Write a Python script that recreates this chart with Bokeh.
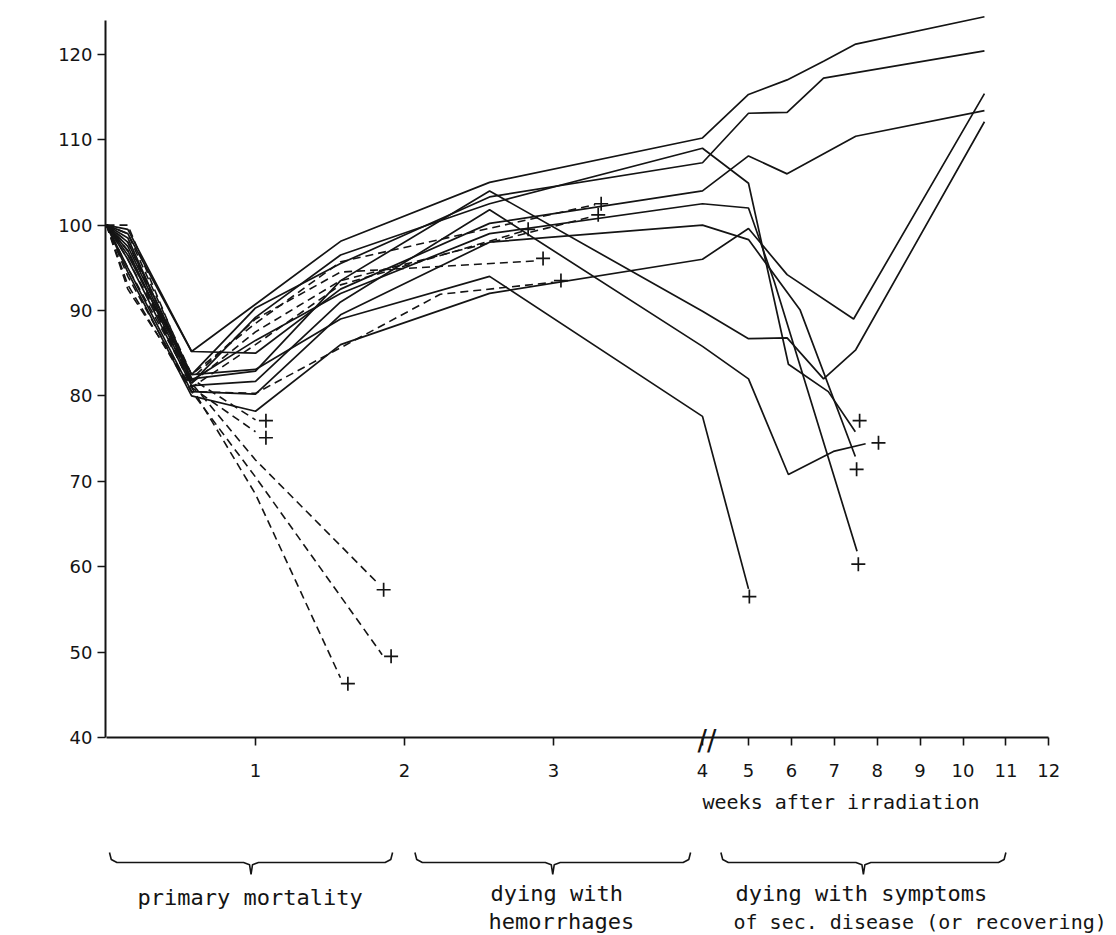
import math
from bokeh.plotting import figure
from bokeh.models import Range1d, FixedTicker, Label
from bokeh.embed import file_html
from bokeh.resources import INLINE

# ---------------- data: weeks after irradiation / % pre-irradiation weight ----------------
# solid lines (animals living past the hemorrhagic phase)
a_w = [0, 0.143, 0.571, 1.571, 2.571, 4.0, 5.0, 5.9, 6.75, 7.5, 10.5]
a_y = [100, 99.0, 85.2, 98.1, 105.0, 110.2, 115.3, 117.0, 119.2, 121.2, 124.4]
c_w = [0, 0.143, 0.571, 1.0, 1.571, 2.571, 4.0, 5.0, 5.9, 6.75, 10.5]
c_y = [100, 98.0, 82.5, 90.3, 95.5, 103.3, 107.3, 113.1, 113.2, 117.2, 120.4]
d_w = [0, 0.143, 0.571, 1.0, 1.571, 2.571, 4.0, 5.0, 5.9, 7.5, 10.5]
d_y = [100, 99.5, 85.2, 85.0, 92.5, 100.2, 104.0, 108.1, 106.0, 110.4, 113.4]
b_w = [0, 0.143, 0.571, 1.0, 1.571, 2.571, 4.0, 5.0, 5.93, 6.86, 7.49]
b_y = [100, 97.0, 81.5, 89.2, 96.5, 102.5, 109.0, 104.9, 83.7, 80.5, 75.8]
k_w = [0, 0.143, 0.571, 1.0, 1.571, 2.571, 4.0, 5.0, 5.6, 7.53]
k_y = [100, 98.5, 81.8, 86.5, 92.0, 99.0, 102.5, 102.0, 93.4, 61.8]
e_w = [0, 0.143, 0.571, 1.0, 1.571, 2.571, 4.0, 5.0, 6.2, 7.49]
e_y = [100, 95.0, 80.5, 80.2, 89.5, 98.0, 100.0, 98.3, 90.1, 72.9]
f_w = [0, 0.143, 0.571, 1.0, 1.571, 2.571, 4.0, 5.0, 5.9, 7.45, 10.5]
f_y = [100, 94.5, 80.0, 78.2, 86.0, 92.0, 96.0, 99.6, 94.2, 89.0, 115.4]
g_w = [0, 0.143, 0.571, 1.0, 1.571, 2.571, 4.0, 5.0, 5.9, 6.75, 7.5, 10.5]
g_y = [100, 97.5, 82.0, 82.9, 93.5, 104.0, 89.9, 86.7, 86.8, 82.0, 85.4, 112.1]
h_w = [0, 0.143, 0.571, 1.0, 1.571, 2.571, 4.0, 5.0, 5.93, 6.98, 7.73]
h_y = [100, 96.0, 81.2, 81.7, 91.0, 101.8, 85.8, 82.0, 70.8, 73.5, 74.4]
i_w = [0, 0.143, 0.571, 1.0, 1.571, 2.571, 4.0, 5.0]
i_y = [100, 96.5, 82.5, 83.1, 89.0, 94.0, 77.6, 57.4]

# dashed lines: primary mortality
p1_w = [0, 0.143, 0.571, 1.0]
p1_y = [100, 100.0, 82.0, 77.2]
p2_w = [0, 0.143, 0.571, 1.0]
p2_y = [100, 97.0, 81.0, 75.8]
p3_w = [0, 0.143, 0.571, 1.0, 1.83]
p3_y = [100, 95.0, 81.5, 72.5, 57.9]
p4_w = [0, 0.143, 0.571, 1.0, 1.85]
p4_y = [100, 93.0, 80.5, 70.5, 49.7]
p5_w = [0, 0.143, 0.571, 1.0, 1.57]
p5_y = [100, 92.5, 81.0, 68.5, 47.0]
# dashed lines: dying with hemorrhages
h1_w = [0, 0.143, 0.571, 1.0, 1.571, 3.28]
h1_y = [100, 99.0, 82.5, 88.5, 95.7, 102.4]
h2_w = [0, 0.143, 0.571, 1.0, 1.571, 3.26]
h2_y = [100, 98.0, 81.5, 87.5, 93.5, 101.0]
h3_w = [0, 0.143, 0.571, 1.0, 1.571, 2.80]
h3_y = [100, 97.0, 81.0, 86.0, 93.0, 99.3]
h4_w = [0, 0.143, 0.571, 1.0, 1.571, 2.88]
h4_y = [100, 96.0, 82.0, 89.0, 94.5, 95.8]
h5_w = [0, 0.143, 0.571, 1.0, 2.24, 3.0]
h5_y = [100, 94.0, 80.5, 80.3, 91.9, 93.3]

# deaths (+)
death_w = [1.07, 1.07, 1.86, 1.91, 1.62, 3.32, 3.30, 2.83, 2.93, 3.05, 5.02, 7.59, 8.03, 7.52, 7.56]
death_y = [77.1, 75.1, 57.3, 49.5, 46.3, 102.5, 101.2, 99.5, 96.1, 93.5, 56.5, 77.1, 74.5, 71.4, 60.3]

x_ticks = [1, 2, 3, 4, 5, 6, 7, 8, 9, 10, 11, 12]
y_ticks = [40, 50, 60, 70, 80, 90, 100, 110, 120]

# phases shown under the axis: (first week, last week, label lines)
phase_spans = [(0.02, 1.92), (2.07, 3.92), (4.4, 11.0)]
phase_labels = [["primary  mortality"], ["dying  with", "hemorrhages"],
                ["dying  with  symptoms", "of sec. disease (or recovering)"]]

solid = [(a_w, a_y), (c_w, c_y), (d_w, d_y), (b_w, b_y), (k_w, k_y), (e_w, e_y),
         (f_w, f_y), (g_w, g_y), (h_w, h_y), (i_w, i_y)]
dashed = [(p1_w, p1_y), (p2_w, p2_y), (p3_w, p3_y), (p4_w, p4_y), (p5_w, p5_y),
          (h1_w, h1_y), (h2_w, h2_y), (h3_w, h3_y), (h4_w, h4_y), (h5_w, h5_y)]

# ---------------- broken time axis: weeks 0-4 linear, compressed after 5 ----------------
PXU = 149.0             # pixels per week before the break
U5 = 642.0 / PXU        # position of week 5
S = 42.9 / PXU          # width of one week after the break


def u(w):
    if w <= 4:
        return w
    if w >= 5:
        return U5 + (w - 5) * S
    return 4 + (w - 4) * (U5 - 4)


INK = "#141414"
PXY = 8.54              # pixels per % unit
TOP, AXIS_Y, FRAME_BOT = 14, 737, 935
X0 = -1.0 / PXU
FW = 1005


def val(py):            # page row -> value on the y scale (for the under-axis annotations)
    return 40 + (AXIS_Y - py) / PXY


p = figure(frame_width=FW, frame_height=FRAME_BOT - TOP,
           x_range=Range1d(X0, X0 + FW / PXU),
           y_range=Range1d(val(FRAME_BOT), val(TOP)),
           x_axis_location="above",
           min_border_left=105, min_border_right=0, min_border_top=TOP, min_border_bottom=0,
           toolbar_location=None, output_backend="svg",
           background_fill_color="white", border_fill_color="white", outline_line_color=None)
p.grid.visible = False

for ws, ys in solid:
    p.line([u(w) for w in ws], ys, line_color=INK, line_width=1.7)
for ws, ys in dashed:
    p.line([u(w) for w in ws], ys, line_color=INK, line_width=1.6, line_dash="8 5")
p.scatter([u(w) for w in death_w], death_y, marker="cross", size=14,
          line_color=INK, line_width=1.7)

xt = [round(u(t), 6) for t in x_ticks]
p.xaxis.ticker = FixedTicker(ticks=xt)
p.xaxis.major_label_overrides = {v: str(t) for v, t in zip(xt, x_ticks)}
p.xaxis.fixed_location = 40
p.xaxis.bounds = (0, u(12))
p.yaxis.ticker = FixedTicker(ticks=y_ticks)
p.yaxis.bounds = (40, 124.0)
for ax in (p.xaxis, p.yaxis):
    ax.axis_line_color = INK
    ax.axis_line_width = 2
    ax.major_tick_line_color = INK
    ax.major_tick_line_width = 1.6
    ax.minor_tick_line_color = None
    ax.major_label_text_font = "DejaVu Sans"
    ax.major_label_text_font_size = "18px"
    ax.major_label_text_color = INK
p.yaxis.major_tick_out = 8
p.yaxis.major_tick_in = 0
p.yaxis.major_label_standoff = 5
# time axis sits at 40 %, ticks and numbers hang below it
p.xaxis.major_tick_out = 0
p.xaxis.major_tick_in = 8
p.xaxis.major_label_standoff = -39

# y-axis title
p.add_layout(Label(x=(21 - 106) / PXU, y=val(397), text="% pre-irradiation  weight", angle=math.pi / 2,
                   text_font="DejaVu Sans Mono", text_font_size="22px", text_align="center",
                   text_baseline="middle", text_color=INK))
# axis break mark
p.add_layout(Label(x=4.03, y=val(740), text="//", text_font="DejaVu Sans", text_font_size="28px",
                   text_align="center", text_baseline="middle", text_color=INK))
# x-axis title
p.add_layout(Label(x=u(4.0), y=val(801), text="weeks  after  irradiation", text_font="DejaVu Sans Mono",
                   text_font_size="20px", text_align="left", text_baseline="alphabetic", text_color=INK))


# braces under the axis
def brace(x0, x1, top, mid, tip):
    xc = (x0 + x1) / 2
    d1, d2 = 0.012, 0.05
    xs = [x0, x0 + d1, x0 + d2, xc - d2, xc - 0.01, xc, xc + 0.01, xc + d2, x1 - d2, x1 - d1, x1]
    ys = [top, mid + 0.35, mid, mid, mid - 0.25, tip, mid - 0.25, mid, mid, mid + 0.35, top]
    return xs, ys


bx, by = [], []
for w0, w1 in phase_spans:
    xs, ys = brace(u(w0), u(w1), val(852), val(862), val(874))
    bx.append(xs)
    by.append(ys)
p.multi_line(bx, by, line_color=INK, line_width=1.6)

# phase labels
label_pos = [[(137, 897, "22px")], [(490, 893, "22px"), (488, 921, "22px")],
             [(735, 893, "22px"), (733, 921, "20px")]]
for lines, poss in zip(phase_labels, label_pos):
    for txt, (px, py, fs) in zip(lines, poss):
        p.add_layout(Label(x=(px - 106) / PXU, y=val(py), text=txt, text_font="DejaVu Sans Mono",
                           text_font_size=fs, text_align="left", text_baseline="alphabetic",
                           text_color=INK))

open("out.html", "w").write(file_html(p, INLINE))
